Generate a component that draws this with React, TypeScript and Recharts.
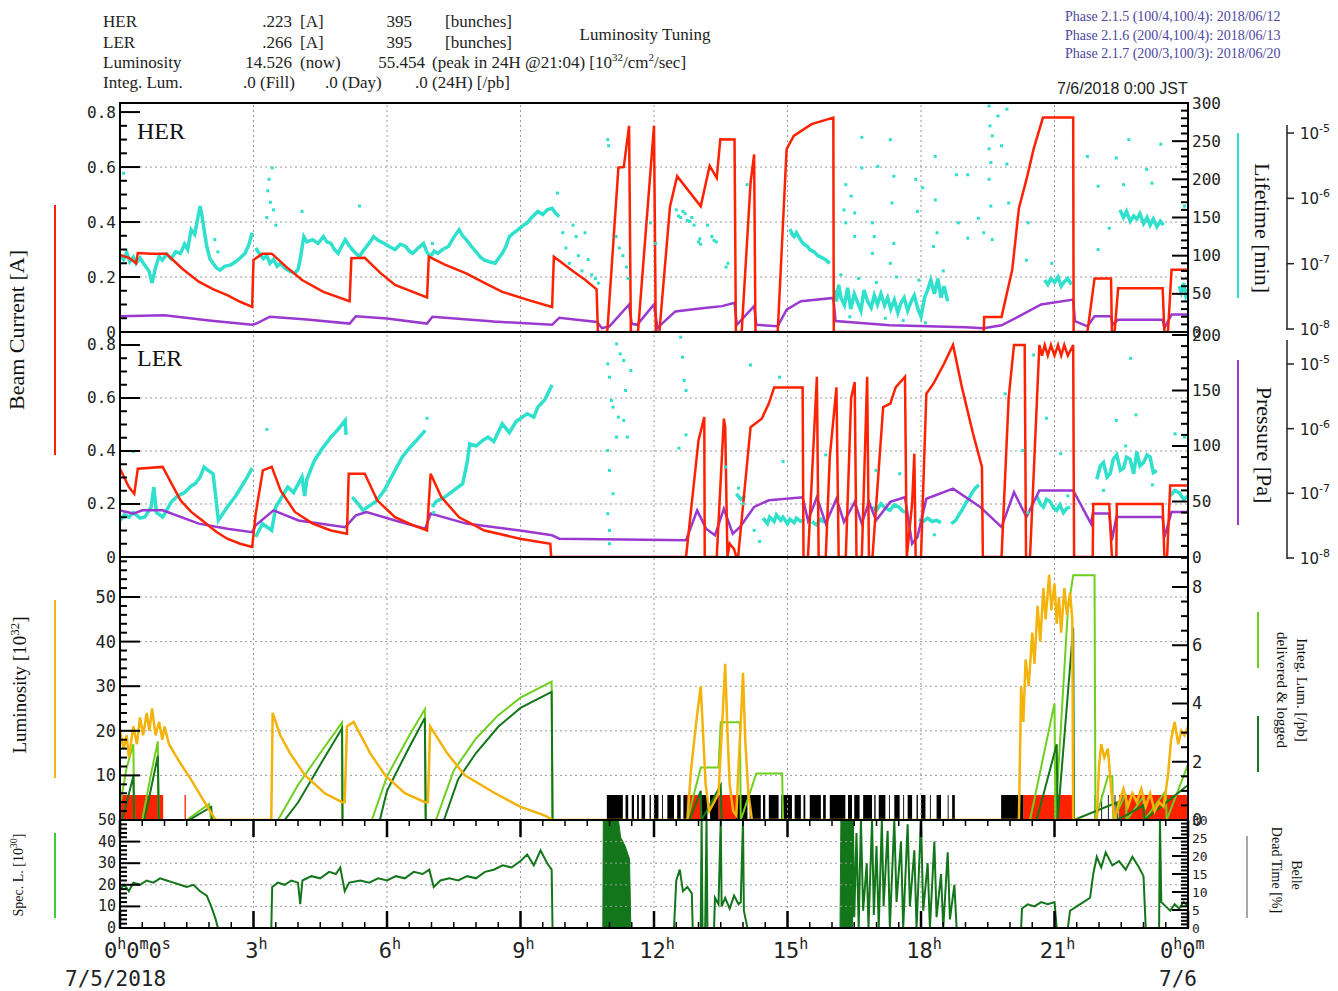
import React from 'react';
import {
  ComposedChart,
  Line,
  Area,
  Scatter,
  XAxis,
  YAxis,
  ReferenceLine,
  ReferenceArea,
} from 'recharts';

type Pt = [number, number | null];
type Span = [number, number];

// ---------- HER ring (hours, A / min / Pa) ----------
const herCurrent: Pt[] = [
  [0, 0.28], [0.2, 0.27], [0.36, 0.25], [0.4, 0.287], [0.7, 0.285], [1.04, 0.285], [1.4, 0.23], [1.77, 0.183],
  [2.1, 0.155], [2.41, 0.134], [2.7, 0.11], [2.97, 0.091],
  [3.0, 0.262], [3.2, 0.285], [3.41, 0.285], [3.75, 0.235], [4.09, 0.189], [4.57, 0.146], [5.16, 0.112],
  [5.2, 0.268], [5.5, 0.27], [5.85, 0.215], [6.18, 0.171], [6.9, 0.126],
  [6.94, 0.274], [7.3, 0.245], [7.78, 0.213], [8.2, 0.178], [8.59, 0.146], [9.2, 0.115], [9.71, 0.091],
  [9.75, 0.274], [10.19, 0.22], [10.45, 0.19], [10.71, 0.155], [10.74, 0], [10.95, 0], [11.2, 0.598], [11.32, 0.6],
  [11.44, 0.75], [11.48, 0], [11.64, 0], [12.0, 0.75], [12.04, 0],
  [12.12, 0], [12.36, 0.457], [12.52, 0.567], [13.05, 0.457], [13.25, 0.604], [13.41, 0.561], [13.49, 0.701],
  [13.81, 0.7], [13.84, 0], [13.97, 0], [14.17, 0.543], [14.25, 0.646], [14.28, 0],
  [14.78, 0], [14.98, 0.665], [15.14, 0.713], [15.54, 0.756], [16.03, 0.78], [16.04, 0],
  [19.41, 0], [19.42, 0.055], [19.81, 0.055], [20.05, 0.226], [20.2, 0.45], [20.37, 0.555], [20.53, 0.665],
  [20.74, 0.78], [21.42, 0.78], [21.43, 0],
  [21.74, 0], [21.9, 0.195], [22.27, 0.195], [22.29, 0], [22.35, 0], [22.43, 0.159], [23.43, 0.159], [23.47, 0],
  [23.55, 0], [23.63, 0.226], [24, 0.226],
];

const herPressure: Pt[] = [
  [0, 1.57e-8], [1.0, 1.63e-8], [2.0, 1.35e-8], [2.97, 1.16e-8], [3.05, 1.2e-8], [3.37, 1.54e-8], [4.2, 1.4e-8],
  [5.16, 1.21e-8], [5.3, 1.57e-8], [6.0, 1.45e-8], [6.9, 1.21e-8], [7.02, 1.54e-8], [8.4, 1.3e-8], [9.71, 1.16e-8],
  [9.87, 1.48e-8], [10.72, 1.28e-8], [10.83, 1.03e-8], [11.0, 1.1e-8], [11.44, 2.37e-8], [11.5, 1.2e-8],
  [11.62, 1.16e-8], [12.0, 2.37e-8], [12.08, 1.03e-8], [12.15, 1.16e-8], [12.48, 1.86e-8], [13.13, 2.09e-8],
  [13.53, 2.24e-8], [13.81, 2.51e-8], [13.86, 1.16e-8], [14.25, 2.24e-8], [14.3, 1.16e-8], [14.78, 1.1e-8],
  [14.98, 1.97e-8], [15.3, 2.66e-8], [16.03, 2.99e-8], [16.08, 1.32e-8], [17.3, 1.14e-8], [19.0, 1.06e-8],
  [19.41, 1.03e-8], [19.81, 1.14e-8], [20.21, 1.57e-8], [20.7, 2.37e-8], [21.42, 2.82e-8], [21.46, 1.32e-8],
  [21.74, 1.1e-8], [21.9, 1.57e-8], [22.27, 1.57e-8], [22.31, 1.16e-8], [22.43, 1.39e-8], [23.43, 1.39e-8],
  [23.47, 1.03e-8], [23.63, 1.66e-8], [24, 1.66e-8],
];

const herLifeBand: Pt[] = [
  [0, 101], [0.08, 95], [0.15, 104], [0.22, 92], [0.3, 98], [0.36, 90], [0.45, 97], [0.55, 88], [0.65, 80],
  [0.72, 64], [0.8, 85], [0.88, 99], [0.95, 94], [1.05, 102], [1.15, 96], [1.25, 105], [1.36, 103], [1.45, 115],
  [1.52, 108], [1.6, 134], [1.68, 128], [1.75, 150], [1.8, 165], [1.85, 150], [1.89, 134], [1.95, 112], [2.02, 96],
  [2.09, 90], [2.17, 84], [2.25, 81], [2.35, 86], [2.49, 88], [2.6, 92], [2.7, 97], [2.81, 103], [2.9, 115],
  [2.97, 130], [3.0, null],
  [3.05, 110], [3.13, 103], [3.22, 96], [3.3, 100], [3.37, 90], [3.45, 95], [3.53, 86], [3.61, 90], [3.7, 84],
  [3.8, 80], [3.93, 77], [4.0, 82], [4.05, 95], [4.13, 125], [4.2, 118], [4.33, 121], [4.45, 116], [4.57, 125],
  [4.65, 118], [4.74, 116], [4.82, 108], [4.9, 103], [4.98, 112], [5.06, 121], [5.14, 114], [5.22, 108],
  [5.3, 103], [5.38, 99], [5.46, 106], [5.54, 112], [5.62, 118], [5.7, 125], [5.8, 120], [5.94, 116], [6.05, 112],
  [6.18, 108], [6.3, 115], [6.42, 112], [6.5, 106], [6.58, 103], [6.7, 110], [6.82, 116], [6.9, 104], [6.98, 99],
  [7.06, 106], [7.14, 103], [7.25, 108], [7.38, 112], [7.5, 124], [7.62, 134], [7.7, 126], [7.78, 121], [7.9, 112],
  [8.03, 103], [8.1, 98], [8.19, 94], [8.3, 92], [8.43, 90], [8.5, 96], [8.59, 103], [8.67, 112], [8.75, 125],
  [8.85, 130], [8.99, 136], [9.07, 140], [9.15, 143], [9.25, 150], [9.39, 158], [9.5, 154], [9.6, 160], [9.71, 162],
  [9.8, 155], [9.87, 151], [9.9, null],
  [15.06, 135], [15.1, 128], [15.15, 125], [15.2, 130], [15.3, 120], [15.35, 116], [15.45, 112], [15.5, 108],
  [15.6, 105], [15.68, 100], [15.75, 98], [15.85, 95], [15.95, 90], [16.0, null],
  [16.05, 55], [16.1, 40], [16.15, 62], [16.2, 45], [16.28, 35], [16.35, 58], [16.42, 30], [16.5, 50], [16.58, 38],
  [16.65, 28], [16.72, 55], [16.8, 40], [16.88, 32], [16.95, 48], [17.02, 36], [17.1, 50], [17.18, 35], [17.25, 45],
  [17.32, 30], [17.4, 42], [17.48, 25], [17.55, 38], [17.62, 45], [17.7, 28], [17.78, 40], [17.85, 48], [17.92, 32],
  [18.0, 20], [18.08, 45], [18.15, 55], [18.22, 68], [18.3, 50], [18.38, 70], [18.45, 45], [18.52, 60], [18.6, 40],
  [18.65, null],
  [20.78, 68], [20.85, 62], [20.92, 70], [21.0, 65], [21.08, 72], [21.15, 60], [21.22, 66], [21.3, 70], [21.38, 62],
  [21.42, null],
  [22.47, 160], [22.55, 150], [22.62, 158], [22.7, 145], [22.78, 152], [22.85, 148], [22.92, 155], [23.0, 142],
  [23.08, 150], [23.15, 140], [23.22, 148], [23.3, 138], [23.38, 145], [23.45, 140], [23.5, null],
  [23.8, 60], [23.85, 52], [23.9, 64], [23.95, 48], [24, 56],
];

const herLifeDots: Pt[] = [
  [0.08, 208], [2.13, 121], [2.2, 105], [3.3, 150], [3.32, 185], [3.35, 200], [3.38, 170], [3.42, 215], [3.45, 160],
  [3.5, 140], [4.09, 158], [5.38, 165], [7.02, 116], [9.83, 182],
  [9.95, 130], [10.02, 110], [10.1, 90], [10.18, 140], [10.25, 125], [10.3, 100], [10.38, 80], [10.45, 130],
  [10.52, 95], [10.6, 75], [10.68, 70], [10.75, 64], [10.96, 252], [10.98, 244], [11.15, 125], [11.22, 110],
  [11.3, 100], [11.38, 85], [11.42, 70], [11.92, 143], [12.04, 116],
  [12.5, 160], [12.55, 152], [12.6, 150], [12.65, 158], [12.7, 155], [12.75, 146], [12.8, 145], [12.85, 150],
  [12.9, 140], [13.0, 118], [13.03, 122], [13.05, 115], [13.2, 140], [13.3, 125], [13.35, 120], [13.4, 118],
  [13.62, 85], [13.66, 90], [14.09, 193],
  [16.67, 255], [17.31, 252], [17.03, 217], [16.67, 215], [16.31, 193], [16.43, 178], [16.27, 160], [16.31, 143],
  [16.51, 156], [16.51, 125], [16.91, 143], [16.95, 125], [16.91, 103], [17.39, 204], [17.35, 169], [17.39, 116],
  [17.31, 90], [17.88, 200], [18.04, 189], [17.92, 158], [18.32, 230], [18.32, 173], [18.36, 130], [18.28, 112],
  [18.8, 206], [19.05, 206], [18.84, 143], [19.05, 123], [19.29, 149], [19.41, 130], [19.53, 296], [19.55, 270],
  [19.53, 240], [19.57, 222], [19.6, 257], [19.73, 283], [19.81, 244], [19.93, 292], [19.93, 220], [19.53, 200],
  [19.57, 165], [19.6, 121], [19.97, 169], [20.41, 143], [20.37, 94], [20.94, 90], [21.74, 230], [21.98, 191],
  [21.98, 108], [22.39, 228], [22.55, 193], [22.67, 252], [23.07, 213], [23.19, 195], [23.39, 246], [23.92, 165],
  [22.23, 136], [16.2, 75], [16.6, 70], [17.0, 65], [17.45, 72], [17.95, 68], [18.5, 80], [16.4, 20], [17.2, 18],
  [17.6, 15], [18.1, 12],
];

// ---------- LER ring ----------
const lerCurrent: Pt[] = [
  [0, 0.333], [0.2, 0.264], [0.32, 0.239], [0.4, 0.333], [0.96, 0.34], [1.15, 0.28], [1.36, 0.214], [1.6, 0.17],
  [1.85, 0.138], [2.17, 0.094], [2.41, 0.069], [2.7, 0.05], [2.97, 0.038],
  [3.05, 0.164], [3.21, 0.327], [3.41, 0.34], [3.61, 0.25], [3.93, 0.17], [4.33, 0.126], [4.74, 0.1], [5.1, 0.088],
  [5.14, 0.314], [5.5, 0.314], [5.78, 0.214], [6.18, 0.15], [6.58, 0.12], [6.9, 0.1],
  [6.98, 0.314], [7.22, 0.226], [7.62, 0.15], [8.19, 0.1], [8.99, 0.069], [9.67, 0.05], [9.69, 0],
  [12.72, 0], [13.0, 0.44], [13.13, 0.528], [13.14, 0], [13.41, 0], [13.57, 0.522], [13.6, 0.49], [13.65, 0],
  [13.7, 0.05], [13.8, 0.03], [13.85, 0], [13.89, 0], [14.17, 0.49], [14.42, 0.522], [14.58, 0.579], [14.7, 0.64],
  [15.34, 0.64], [15.36, 0], [15.46, 0], [15.66, 0.68], [15.7, 0], [15.86, 0], [15.95, 0.377], [16.1, 0.64],
  [16.15, 0], [16.31, 0], [16.43, 0.6], [16.51, 0.66], [16.55, 0], [16.67, 0], [16.79, 0.68], [16.83, 0],
  [16.91, 0], [17.15, 0.566], [17.31, 0.579], [17.43, 0.64], [17.64, 0.68], [17.68, 0], [17.8, 0.2], [17.85, 0.39],
  [17.88, 0], [18.0, 0], [18.12, 0.616], [18.28, 0.654], [18.52, 0.73], [18.72, 0.8], [18.92, 0.64], [19.17, 0.465],
  [19.37, 0.34], [19.39, 0], [19.81, 0], [19.97, 0.6], [20.09, 0.8], [20.33, 0.8], [20.36, 0], [20.45, 0],
  [20.66, 0.8], [20.72, 0.76], [20.78, 0.8], [20.85, 0.76], [20.92, 0.8], [21.0, 0.76], [21.08, 0.8], [21.15, 0.76],
  [21.22, 0.8], [21.3, 0.76], [21.42, 0.8], [21.44, 0],
  [21.86, 0], [21.87, 0.2], [22.23, 0.2], [22.29, 0], [22.39, 0], [22.4, 0.2], [23.43, 0.2], [23.47, 0],
  [23.53, 0], [23.6, 0.27], [24, 0.27],
];

const lerPressure: Pt[] = [
  [0, 5.45e-8], [0.3, 4.86e-8], [0.5, 5.45e-8], [0.96, 5.45e-8], [1.77, 3.4e-8], [2.41, 2.84e-8], [2.97, 2.51e-8],
  [3.05, 3.21e-8], [3.45, 5.45e-8], [4.01, 3.8e-8], [5.06, 3.0e-8], [5.3, 4.55e-8], [5.54, 5.14e-8], [6.18, 3.8e-8],
  [6.86, 2.84e-8], [6.98, 4.86e-8], [7.78, 3.4e-8], [8.99, 2.66e-8], [9.71, 2.24e-8], [9.87, 1.99e-8],
  [12.72, 1.88e-8], [12.97, 5.45e-8], [13.17, 2.84e-8], [13.37, 2.24e-8], [13.57, 5.75e-8], [13.77, 2.37e-8],
  [13.93, 3.0e-8], [14.25, 6.15e-8], [14.58, 7.8e-8], [15.34, 8.7e-8], [15.46, 3.8e-8], [15.66, 8.7e-8],
  [15.86, 3.4e-8], [16.1, 8.24e-8], [16.27, 3.6e-8], [16.51, 7.36e-8], [16.67, 3.4e-8], [16.83, 7.36e-8],
  [16.99, 3.8e-8], [17.31, 7.36e-8], [17.64, 8.7e-8], [17.8, 1.66e-8], [17.92, 2.1e-8], [18.12, 8.24e-8],
  [18.72, 1.18e-7], [19.33, 6.15e-8], [19.81, 3.0e-8], [20.09, 1.04e-7], [20.37, 4.3e-8], [20.66, 1.11e-7],
  [21.42, 1.11e-7], [21.82, 3.4e-8], [21.86, 4.86e-8], [22.23, 4.86e-8], [22.29, 1.88e-8], [22.39, 4.3e-8],
  [23.43, 4.3e-8], [23.47, 2.1e-8], [23.63, 5.14e-8], [24, 5.14e-8],
];

const lerLifeBand: Pt[] = [
  [0, 33], [0.1, 38], [0.2, 36], [0.3, 40], [0.45, 35], [0.56, 36], [0.7, 45], [0.76, 63], [0.82, 40], [0.96, 36],
  [1.16, 50], [1.3, 55], [1.45, 58], [1.6, 64], [1.69, 66], [1.8, 72], [1.89, 81], [1.98, 78], [2.09, 75],
  [2.15, 55], [2.21, 33], [2.41, 45], [2.6, 55], [2.8, 68], [2.97, 80], [3.0, null],
  [3.05, 18], [3.2, 30], [3.41, 24], [3.5, 45], [3.77, 63], [3.9, 58], [4.09, 72], [4.15, 55], [4.2, 70],
  [4.37, 87], [4.55, 98], [4.74, 108], [4.9, 115], [5.06, 123], [5.08, 110], [5.15, null],
  [5.22, 54], [5.35, 48], [5.46, 42], [5.6, 46], [5.75, 50], [5.94, 60], [6.1, 72], [6.34, 90], [6.5, 98],
  [6.66, 105], [6.86, 114], [6.95, null],
  [7.02, 45], [7.1, 50], [7.3, 54], [7.5, 60], [7.7, 66], [7.8, 85], [7.86, 102], [8.0, 100], [8.15, 105],
  [8.27, 108], [8.4, 104], [8.59, 120], [8.75, 112], [8.9, 122], [9.15, 129], [9.3, 126], [9.39, 135], [9.55, 142],
  [9.71, 155], [9.75, null],
  [13.85, 57], [13.95, 52], [14.05, 55], [14.1, null],
  [14.45, 35], [14.55, 30], [14.6, 36], [14.7, 32], [14.75, 38], [14.85, 33], [14.9, 36], [15.0, 30], [15.05, 34],
  [15.15, 31], [15.2, 35], [15.3, 32], [15.38, 34], [15.4, null], [15.55, 32], [15.65, 29], [15.75, 34],
  [15.82, 31], [15.85, null],
  [16.9, 45], [17.0, 42], [17.1, 48], [17.2, 44], [17.3, 42], [17.4, 47], [17.5, 45], [17.6, 41], [17.7, 40],
  [17.75, null], [17.95, 34], [18.05, 32], [18.15, 35], [18.25, 32], [18.35, 33], [18.45, 31], [18.5, null],
  [18.68, 30], [18.78, 33], [18.85, 38], [18.92, 42], [19.0, 48], [19.08, 53], [19.15, 58], [19.22, 62],
  [19.3, 65], [19.32, null],
  [20.6, 55], [20.68, 48], [20.75, 45], [20.82, 52], [20.9, 50], [20.98, 44], [21.05, 42], [21.12, 47], [21.2, 40],
  [21.28, 44], [21.35, 45], [21.4, null],
  [21.95, 70], [22.03, 82], [22.1, 85], [22.18, 72], [22.25, 75], [22.32, 88], [22.4, 92], [22.48, 78],
  [22.55, 80], [22.62, 90], [22.7, 88], [22.78, 75], [22.85, 95], [22.92, 82], [23.0, 85], [23.08, 92],
  [23.15, 90], [23.22, 76], [23.3, 78], [23.35, null], [23.6, 55], [23.7, 60], [23.8, 58], [23.9, 52], [24, 55],
];

const lerLifeDots: Pt[] = [
  [0.3, 95], [3.3, 115], [6.9, 125], [7.05, 40], [10.96, 174], [11.0, 162], [11.04, 141], [11.08, 135],
  [11.16, 192], [11.24, 183], [11.2, 126], [11.32, 177], [11.32, 123], [11.36, 150], [11.4, 108], [10.96, 96],
  [11.0, 78], [10.96, 39], [11.0, 24], [11.0, 12], [11.16, 108], [11.48, 168], [11.08, 57],
  [12.6, 198], [12.64, 180], [12.68, 159], [12.72, 150], [12.72, 110], [12.56, 98], [14.17, 173], [14.82, 162],
  [14.9, 86], [14.25, 24], [14.37, 14], [13.61, 81], [15.86, 92], [16.99, 78], [17.52, 75], [19.89, 147],
  [20.29, 96], [20.53, 182], [20.82, 125], [21.14, 93], [22.39, 123], [22.71, 179], [22.83, 128], [23.71, 111],
  [23.92, 108], [13.9, 62], [14.0, 48], [18.3, 20], [20.4, 40], [21.3, 55], [22.1, 60], [22.6, 100], [23.2, 65],
];

// ---------- Luminosity ----------
const lumi: Pt[] = [
  [0, 20], [0.08, 16], [0.15, 19], [0.2, 14], [0.3, 21], [0.38, 17], [0.45, 23], [0.52, 19], [0.6, 24], [0.66, 20],
  [0.72, 25], [0.8, 19], [0.88, 22], [0.95, 18], [1.0, 21], [1.1, 17], [1.34, 13], [1.6, 9], [1.9, 4], [2.15, 0],
  [3.4, 0], [3.43, 24], [3.6, 19], [3.82, 15], [4.16, 10], [4.6, 6], [4.99, 4], [5.05, 4],
  [5.1, 21], [5.25, 22], [5.62, 15], [5.96, 10], [6.4, 6], [6.85, 4], [6.92, 4],
  [6.97, 21], [7.35, 15], [7.75, 10], [8.43, 6], [8.99, 3], [9.55, 1], [9.73, 0],
  [12.75, 0], [12.83, 11], [12.95, 22], [13.05, 30], [13.1, 20], [13.16, 8], [13.24, 2], [13.35, 4], [13.45, 6],
  [13.55, 25], [13.6, 35], [13.65, 20], [13.7, 8], [13.78, 2], [13.85, 1], [13.9, 12], [13.96, 24], [14.0, 33],
  [14.05, 18], [14.12, 6], [14.2, 0],
  [20.2, 0], [20.25, 30], [20.3, 22], [20.35, 36], [20.42, 30], [20.5, 42], [20.55, 35], [20.62, 48], [20.68, 40],
  [20.75, 52], [20.8, 45], [20.88, 55], [20.93, 47], [21.0, 53], [21.05, 44], [21.1, 50], [21.15, 42],
  [21.22, 52], [21.28, 46], [21.35, 51], [21.4, 45], [21.42, 0],
  [21.95, 0], [22.0, 12], [22.05, 17], [22.12, 14], [22.2, 16], [22.28, 6], [22.35, 0], [22.45, 4], [22.55, 7],
  [22.65, 3], [22.75, 6], [22.85, 4], [22.95, 7], [23.05, 3], [23.15, 6], [23.25, 2], [23.35, 4], [23.45, 3],
  [23.55, 10], [23.62, 18], [23.7, 22], [23.78, 17], [23.85, 20], [23.92, 19], [24, 21],
];

const integDelivered: Pt[] = [
  [0, 0.5], [0.15, 1.8], [0.3, 2.6], [0.32, 0], [0.5, 0], [0.7, 1.6], [0.85, 2.7], [0.87, 0], [1.5, 0], [2.0, 0.55],
  [2.05, 0], [3.55, 0], [4.0, 1.2], [4.5, 2.3], [4.99, 3.35], [5.0, 0], [5.66, 0], [6.0, 1.5], [6.5, 2.9],
  [6.85, 3.8], [6.87, 0], [7.1, 0], [7.5, 1.7], [8.0, 2.8], [8.5, 3.6], [9.0, 4.2], [9.7, 4.75], [9.72, 0],
  [12.75, 0], [13.05, 1.8], [13.45, 1.8], [13.5, 3.36], [13.93, 3.36], [13.95, 0], [14.3, 1.6], [14.88, 1.6],
  [14.9, 0], [20.45, 0], [21.0, 4.0], [21.02, 0], [21.3, 7.2], [21.42, 8.4], [21.9, 8.4], [21.92, 0],
  [22.2, 1.5], [22.3, 1.5], [22.32, 0], [22.6, 0.9], [22.62, 0], [23.0, 0.8], [23.02, 0], [23.5, 1.0], [23.52, 0],
  [24, 1.9],
];

const integLogged: Pt[] = [
  [0.05, 0], [0.3, 1.5], [0.32, 0], [0.55, 0], [0.85, 2.2], [0.87, 0], [1.55, 0], [2.05, 0.45], [2.07, 0],
  [3.7, 0], [4.0, 0.6], [4.5, 1.9], [4.99, 3.15], [5.0, 0], [5.84, 0], [6.0, 1.0], [6.5, 2.5], [6.85, 3.5],
  [6.87, 0], [7.28, 0], [7.6, 1.4], [8.0, 2.3], [8.5, 3.2], [9.0, 3.85], [9.7, 4.4], [9.72, 0],
  [12.8, 0], [13.05, 1.0], [13.07, 0], [13.5, 1.2], [13.52, 0], [20.6, 0], [21.05, 2.6], [21.07, 0], [21.42, 6.6],
  [21.44, 0], [22.4, 0.6], [22.42, 0], [23.0, 0.5], [23.02, 0], [24, 1.2],
];

const stateRed: Span[] = [[0, 0.97], [1.45, 1.48], [12.74, 13.05], [13.45, 13.84], [20.3, 21.4], [22.45, 24]];
const stateBlack: Span[] = [
  [10.94, 11.3], [11.36, 11.42], [11.5, 11.55], [11.62, 11.66], [11.72, 11.8], [11.9, 11.93], [12.0, 12.1],
  [12.18, 12.2], [12.3, 12.45], [12.52, 12.6], [12.66, 12.74], [13.05, 13.2], [13.26, 13.45], [13.84, 14.1],
  [14.15, 14.4], [14.45, 14.5], [14.58, 14.8], [14.86, 15.1], [15.16, 15.3], [15.36, 15.4], [15.5, 15.75],
  [15.8, 15.86], [15.95, 16.3], [16.36, 16.45], [16.5, 16.62], [16.7, 16.9], [16.95, 16.98], [17.05, 17.2],
  [17.28, 17.3], [17.4, 17.52], [17.6, 17.62], [17.7, 17.8], [17.9, 17.93], [18.0, 18.1], [18.2, 18.22],
  [18.35, 18.45], [18.6, 18.62], [18.7, 18.76], [19.8, 20.3], [21.9, 21.92], [22.05, 22.07], [22.2, 22.22],
  [22.35, 22.37],
];

// ---------- Specific luminosity ----------
const specLumi: Pt[] = [
  [0, 18], [0.1, 20], [0.2, 17], [0.3, 21], [0.45, 20], [0.6, 22], [0.75, 21], [0.9, 23], [1.05, 22], [1.2, 21],
  [1.35, 20], [1.5, 19], [1.65, 20], [1.8, 17], [1.95, 15], [2.05, 10], [2.15, 4], [2.2, 0],
  [3.4, 0], [3.42, 19], [3.55, 21], [3.7, 20], [3.85, 22], [4.0, 21], [4.05, 11], [4.1, 22], [4.3, 24], [4.5, 23],
  [4.7, 26], [4.85, 25], [4.95, 28], [5.05, 17], [5.15, 21], [5.4, 22], [5.6, 21], [5.8, 23], [6.0, 22], [6.2, 24],
  [6.4, 23], [6.6, 26], [6.8, 25], [6.95, 27], [7.05, 19], [7.2, 22], [7.4, 23], [7.6, 22], [7.8, 24], [8.0, 23],
  [8.2, 26], [8.4, 27], [8.6, 29], [8.8, 28], [9.0, 31], [9.15, 34], [9.3, 29], [9.45, 36], [9.6, 30], [9.7, 27],
  [9.72, 0],
  [12.45, 0], [12.5, 22], [12.58, 27], [12.65, 17], [12.75, 19], [12.85, 16], [12.87, 0],
  [13.05, 0], [13.07, 50], [13.09, 0], [13.15, 0], [13.18, 50], [13.2, 0], [13.35, 0], [13.37, 14], [13.45, 11],
  [13.5, 50], [13.52, 10], [13.6, 14], [13.7, 9], [13.8, 15], [13.9, 11], [13.95, 12], [14.0, 50], [14.02, 8],
  [14.1, 0],
  [16.45, 0], [16.47, 50], [16.5, 5], [16.55, 44], [16.6, 0], [16.65, 50], [16.7, 8], [16.78, 30], [16.82, 0],
  [16.9, 50], [16.94, 6], [17.0, 38], [17.05, 0], [17.12, 50], [17.16, 10], [17.25, 45], [17.3, 0], [17.4, 50],
  [17.45, 12], [17.55, 40], [17.6, 0], [17.7, 48], [17.75, 10], [17.85, 36], [17.9, 0], [18.0, 50], [18.05, 8],
  [18.15, 30], [18.2, 0], [18.3, 40], [18.35, 5], [18.45, 25], [18.5, 0], [18.6, 35], [18.65, 4], [18.75, 20],
  [18.8, 0],
  [20.25, 0], [20.27, 9], [20.4, 11], [20.55, 10], [20.7, 12], [20.85, 11], [21.0, 12], [21.05, 0],
  [21.3, 0], [21.35, 8], [21.5, 10], [21.65, 12], [21.8, 14], [21.87, 25], [21.95, 33], [22.05, 28], [22.15, 35],
  [22.3, 29], [22.45, 31], [22.6, 27], [22.75, 33], [22.9, 28], [23.0, 24], [23.05, 0],
  [23.35, 0], [23.37, 50], [23.4, 12], [23.5, 10], [23.6, 8], [23.7, 11], [23.8, 9], [23.9, 12], [24, 10],
];

const specBurst: Pt[] = [
  [10.85, 0], [10.86, 50], [11.2, 50], [11.25, 42], [11.35, 38], [11.45, 32], [11.48, 0],
  [16.18, 0], [16.2, 50], [16.45, 50], [16.46, 0],
];

const xTickLabels = ['3', '6', '9', '12', '15', '18', '21'];

// ---------- helpers ----------
const PL = 120;
const PR = 1188;
const AX2 = 1287;
const MONO = 'DejaVu Sans Mono, monospace';
const SERIF = 'Liberation Serif, Times New Roman, serif';
const RED = '#ff2200';
const CYAN = '#2fe0cc';
const PURPLE = '#9a38d0';
const ORANGE = '#f4b30a';
const LGREEN = '#6fcf1f';
const DGREEN = '#13761a';
const M = { top: 0, right: 0, bottom: 0, left: 0 };

const rows = (a: Pt[]) => a.map(([t, v]) => ({ t, v }));
const steps = (a: number, b: number, s: number) => {
  const out: number[] = [];
  for (let i = 0; a + i * s <= b + 1e-9; i++) out.push(+(a + i * s).toFixed(4));
  return out;
};
const isMult = (v: number, s: number) => Math.abs(v / s - Math.round(v / s)) < 1e-6;
const X_TICKS = steps(0, 24, 0.5);
const GRID_X = [3, 6, 9, 12, 15, 18, 21];

function makeXTick(plotH: number, labels: boolean) {
  return (props: any) => {
    const { x, payload } = props;
    const v = payload.value as number;
    const major = isMult(v, 3);
    const len = major ? 17 : 6;
    const sw = major ? 2.5 : 1.5;
    let label: React.ReactNode = null;
    if (labels && major) {
      const by = plotH + 30;
      if (v === 0) {
        label = (
          <g fontFamily={MONO} fill="#222">
            <text x={x - 16} y={by} fontSize={22}>
              0<tspan dy={-9} fontSize={15}>h</tspan>
              <tspan dy={9}>0</tspan>
              <tspan dy={-9} fontSize={15}>m</tspan>
              <tspan dy={9}>0</tspan>
              <tspan dy={-9} fontSize={15}>s</tspan>
            </text>
            <text x={x - 55} y={plotH + 58} fontSize={21}>7/5/2018</text>
          </g>
        );
      } else if (v === 24) {
        label = (
          <g fontFamily={MONO} fill="#222">
            <text x={x - 28} y={by} fontSize={22}>
              0<tspan dy={-9} fontSize={15}>h</tspan>
              <tspan dy={9}>0</tspan>
              <tspan dy={-9} fontSize={15}>m</tspan>
            </text>
            <text x={x + 9} y={plotH + 58} fontSize={21} textAnchor="end">7/6</text>
          </g>
        );
      } else {
        const s = xTickLabels[v / 3 - 1];
        label = (
          <text x={x + 3} y={by} fontSize={22} fontFamily={MONO} fill="#222" textAnchor="middle">
            {s}
            <tspan dy={-9} fontSize={15}>h</tspan>
          </text>
        );
      }
    }
    return (
      <g>
        <line x1={x} x2={x} y1={plotH} y2={plotH - len} stroke="#000" strokeWidth={sw} />
        <line x1={x} x2={x} y1={0} y2={len} stroke="#000" strokeWidth={sw} />
        {label}
      </g>
    );
  };
}

function makeLeftTick(majorStep: number, fmt: (v: number) => string, fs: number, hide: number[] = []) {
  return (props: any) => {
    const { y, payload } = props;
    const v = payload.value as number;
    const major = isMult(v, majorStep);
    return (
      <g>
        <line x1={PL} x2={PL + (major ? 20 : 7)} y1={y} y2={y} stroke="#000" strokeWidth={2} />
        {major && !hide.includes(v) && (
          <text x={PL - 4} y={y} textAnchor="end" dominantBaseline="central" fontFamily={MONO} fontSize={fs} fill="#222">
            {fmt(v)}
          </text>
        )}
      </g>
    );
  };
}

function makeRightTick(majorStep: number, fs: number) {
  return (props: any) => {
    const { y, payload } = props;
    const v = payload.value as number;
    const major = isMult(v, majorStep);
    return (
      <g>
        <line x1={PR - (major ? 16 : 7)} x2={PR} y1={y} y2={y} stroke="#000" strokeWidth={2} />
        {major && (
          <text x={PR + 4} y={y} dominantBaseline="central" fontFamily={MONO} fontSize={fs} fill="#222">
            {String(v)}
          </text>
        )}
      </g>
    );
  };
}

function makeLogTick(plotH: number, dom: [number, number], ext: number) {
  const dec = plotH / (Math.log10(dom[1]) - Math.log10(dom[0]));
  return (props: any) => {
    const { y, payload } = props;
    const v = payload.value as number;
    const e = Math.round(Math.log10(v));
    return (
      <g>
        {e === -8 && <line x1={AX2} x2={AX2} y1={y + 1} y2={y - 3 * dec - ext} stroke="#222" strokeWidth={1.5} />}
        <line x1={AX2} x2={AX2 + 7} y1={y} y2={y} stroke="#222" strokeWidth={1.5} />
        <text x={AX2 + 13} y={y + 6} fontFamily="DejaVu Sans, sans-serif" fontSize={15} fill="#222">
          10<tspan dy={-7} fontSize={11}>{String(e)}</tspan>
        </text>
      </g>
    );
  };
}

const gridEls = (yVals: number[]) => [
  ...GRID_X.map((h) => (
    <ReferenceLine key={'gx' + h} x={h} yAxisId="L" stroke="#9a9a9a" strokeDasharray="2 3" strokeWidth={1} />
  )),
  ...yVals.map((v) => (
    <ReferenceLine key={'gy' + v} y={v} yAxisId="L" stroke="#9a9a9a" strokeDasharray="2 3" strokeWidth={1} />
  )),
];

const xAxisEl = (plotH: number, labels: boolean) => (
  <XAxis
    dataKey="t"
    type="number"
    domain={[0, 24]}
    ticks={X_TICKS}
    interval={0}
    allowDataOverflow
    tickLine={false}
    axisLine={false}
    height={labels ? 64 : 0}
    tick={makeXTick(plotH, labels)}
  />
);

const dot = (c: string) => (p: any) => <rect x={p.cx - 1.5} y={p.cy - 1.5} width={3} height={3} fill={c} />;

function RingPanel(props: {
  top: number;
  plotH: number;
  leftTop: number;
  rightTop: number;
  logDom: [number, number];
  logExt: number;
  current: Pt[];
  pressure: Pt[];
  lifeBand: Pt[];
  lifeDots: Pt[];
}) {
  const { top, plotH, leftTop, rightTop, logDom, logExt } = props;
  const fmt = (v: number) => (v === 0 ? '0' : v.toFixed(1));
  return (
    <div style={{ position: 'absolute', left: 0, top }}>
      <ComposedChart width={1338} height={plotH} margin={M}>
        {xAxisEl(plotH, false)}
        <YAxis
          yAxisId="L"
          width={120}
          domain={[0, leftTop]}
          ticks={steps(0, 0.8, 0.05)}
          interval={0}
          allowDataOverflow
          tickLine={false}
          axisLine={false}
          tick={makeLeftTick(0.2, fmt, 16)}
        />
        <YAxis
          yAxisId="R"
          orientation="right"
          width={99}
          domain={[0, rightTop]}
          ticks={steps(0, rightTop > 250 ? 300 : 200, 10)}
          interval={0}
          allowDataOverflow
          tickLine={false}
          axisLine={false}
          tick={makeRightTick(50, 16)}
        />
        <YAxis
          yAxisId="P"
          orientation="right"
          width={51}
          scale="log"
          domain={logDom}
          ticks={[1e-8, 1e-7, 1e-6, 1e-5]}
          interval={0}
          allowDataOverflow
          tickLine={false}
          axisLine={false}
          tick={makeLogTick(plotH, logDom, logExt)}
        />
        {gridEls([0.2, 0.4, 0.6])}
        <Scatter
          data={rows(props.lifeDots)}
          dataKey="v"
          yAxisId="R"
          fill={CYAN}
          shape={dot(CYAN)}
          isAnimationActive={false}
        />
        <Line
          data={rows(props.lifeBand)}
          dataKey="v"
          yAxisId="R"
          type="linear"
          stroke={CYAN}
          strokeWidth={3.5}
          dot={false}
          connectNulls={false}
          isAnimationActive={false}
        />
        <Line
          data={rows(props.pressure)}
          dataKey="v"
          yAxisId="P"
          type="linear"
          stroke={PURPLE}
          strokeWidth={2.5}
          dot={false}
          isAnimationActive={false}
        />
        <Line
          data={rows(props.current)}
          dataKey="v"
          yAxisId="L"
          type="linear"
          stroke={RED}
          strokeWidth={2.5}
          dot={false}
          isAnimationActive={false}
        />
      </ComposedChart>
    </div>
  );
}

function LumiPanel() {
  const plotH = 263;
  return (
    <div style={{ position: 'absolute', left: 0, top: 557 }}>
      <ComposedChart width={1338} height={plotH} margin={M}>
        {xAxisEl(plotH, false)}
        <YAxis
          yAxisId="L"
          width={120}
          domain={[0, 58.97]}
          ticks={steps(0, 58, 2)}
          interval={0}
          allowDataOverflow
          tickLine={false}
          axisLine={false}
          tick={makeLeftTick(10, (v) => String(v), 17, [0])}
        />
        <YAxis
          yAxisId="R"
          orientation="right"
          width={150}
          domain={[0, 9.03]}
          ticks={steps(0, 9, 0.5)}
          interval={0}
          allowDataOverflow
          tickLine={false}
          axisLine={false}
          tick={makeRightTick(2, 17)}
        />
        {gridEls([10, 20, 30, 40, 50])}
        {stateRed.map(([a, b], i) => (
          <ReferenceArea key={'r' + i} x1={a} x2={b} y1={0} y2={5.6} yAxisId="L" fill={RED} fillOpacity={1} stroke="none" />
        ))}
        {stateBlack.map(([a, b], i) => (
          <ReferenceArea key={'b' + i} x1={a} x2={b} y1={0} y2={5.6} yAxisId="L" fill="#000" fillOpacity={1} stroke="none" />
        ))}
        <Line
          data={rows(integDelivered)}
          dataKey="v"
          yAxisId="R"
          type="linear"
          stroke={LGREEN}
          strokeWidth={2}
          dot={false}
          isAnimationActive={false}
        />
        <Line
          data={rows(integLogged)}
          dataKey="v"
          yAxisId="R"
          type="linear"
          stroke={DGREEN}
          strokeWidth={2}
          dot={false}
          isAnimationActive={false}
        />
        <Line
          data={rows(lumi)}
          dataKey="v"
          yAxisId="L"
          type="linear"
          stroke={ORANGE}
          strokeWidth={2.5}
          dot={false}
          isAnimationActive={false}
        />
      </ComposedChart>
    </div>
  );
}

function SpecPanel() {
  const plotH = 108;
  return (
    <div style={{ position: 'absolute', left: 0, top: 820 }}>
      <ComposedChart width={1338} height={plotH + 64} margin={M}>
        {xAxisEl(plotH, true)}
        <YAxis
          yAxisId="L"
          width={120}
          domain={[0, 50]}
          ticks={steps(0, 50, 2)}
          interval={0}
          allowDataOverflow
          tickLine={false}
          axisLine={false}
          tick={makeLeftTick(10, (v) => String(v), 15)}
        />
        <YAxis
          yAxisId="R"
          orientation="right"
          width={150}
          domain={[0, 30]}
          ticks={steps(0, 30, 1)}
          interval={0}
          allowDataOverflow
          tickLine={false}
          axisLine={false}
          tick={makeRightTick(5, 13)}
        />
        {gridEls([10, 20, 30, 40])}
        <Area
          data={rows(specBurst)}
          dataKey="v"
          yAxisId="L"
          type="linear"
          stroke={DGREEN}
          fill={DGREEN}
          fillOpacity={1}
          isAnimationActive={false}
        />
        <Line
          data={rows(specLumi)}
          dataKey="v"
          yAxisId="L"
          type="linear"
          stroke={DGREEN}
          strokeWidth={2}
          dot={false}
          isAnimationActive={false}
        />
      </ComposedChart>
    </div>
  );
}

function Decor() {
  const hdr = { fontFamily: SERIF, fontSize: 17, fill: '#222' };
  const phase = { fontFamily: SERIF, fontSize: 14, fill: '#4d45a0' };
  return (
    <svg width={1338} height={991} style={{ position: 'absolute', left: 0, top: 0, pointerEvents: 'none' }}>
      {/* header */}
      <g {...hdr}>
        <text x={103} y={27}>HER</text>
        <text x={292} y={27} textAnchor="end">.223</text>
        <text x={300} y={27}>[A]</text>
        <text x={412} y={27} textAnchor="end">395</text>
        <text x={445} y={27}>[bunches]</text>
        <text x={103} y={48}>LER</text>
        <text x={292} y={48} textAnchor="end">.266</text>
        <text x={300} y={48}>[A]</text>
        <text x={412} y={48} textAnchor="end">395</text>
        <text x={445} y={48}>[bunches]</text>
        <text x={103} y={68}>Luminosity</text>
        <text x={292} y={68} textAnchor="end">14.526</text>
        <text x={300} y={68}>(now)</text>
        <text x={425} y={68} textAnchor="end">55.454</text>
        <text x={432} y={68}>
          (peak in 24H @21:04) [10<tspan dy={-7} fontSize={11}>32</tspan>
          <tspan dy={7}>/cm</tspan>
          <tspan dy={-7} fontSize={11}>2</tspan>
          <tspan dy={7}>/sec]</tspan>
        </text>
        <text x={103} y={88}>Integ. Lum.</text>
        <text x={243} y={88}>.0 (Fill)</text>
        <text x={325} y={88}>.0 (Day)</text>
        <text x={415} y={88}>.0 (24H) [/pb]</text>
        <text x={645} y={40} textAnchor="middle">Luminosity  Tuning</text>
      </g>
      <g {...phase}>
        <text x={1065} y={21}>Phase 2.1.5 (100/4,100/4): 2018/06/12</text>
        <text x={1065} y={40}>Phase 2.1.6 (200/4,100/4): 2018/06/13</text>
        <text x={1065} y={58}>Phase 2.1.7 (200/3,100/3): 2018/06/20</text>
      </g>
      <text x={1057} y={94} fontFamily="Liberation Sans, Arial, sans-serif" fontSize={16} fill="#222">
        7/6/2018 0:00 JST
      </text>

      {/* ring names */}
      <text x={137} y={139} fontFamily={SERIF} fontSize={24} fill="#111">HER</text>
      <text x={137} y={366} fontFamily={SERIF} fontSize={24} fill="#111">LER</text>

      {/* panel frames */}
      <g fill="none" stroke="#000" strokeWidth={2}>
        <rect x={PL} y={103} width={PR - PL} height={229} />
        <rect x={PL} y={332} width={PR - PL} height={225} />
        <rect x={PL} y={557} width={PR - PL} height={263} />
        <rect x={PL} y={820} width={PR - PL} height={108} />
      </g>

      {/* left titles */}
      <text transform="translate(24,330) rotate(-90)" textAnchor="middle" fontFamily={SERIF} fontSize={22} fill="#111">
        Beam Current [A]
      </text>
      <line x1={55} x2={55} y1={205} y2={455} stroke={RED} strokeWidth={2} />
      <text transform="translate(26,685) rotate(-90)" textAnchor="middle" fontFamily={SERIF} fontSize={19} fill="#111">
        Luminosity [10<tspan dy={-7} fontSize={13}>32</tspan>
        <tspan dy={7}>]</tspan>
      </text>
      <line x1={55} x2={55} y1={600} y2={778} stroke={ORANGE} strokeWidth={2} />
      <text transform="translate(23,875) rotate(-90)" textAnchor="middle" fontFamily={SERIF} fontSize={14} fill="#111">
        Spec. L. [10<tspan dy={-6} fontSize={10}>30</tspan>
        <tspan dy={6}>]</tspan>
      </text>
      <line x1={55} x2={55} y1={833} y2={918} stroke="#3ccc3c" strokeWidth={2} />

      {/* right titles */}
      <line x1={1238} x2={1238} y1={133} y2={298} stroke={CYAN} strokeWidth={2} />
      <text transform="translate(1255,228) rotate(90)" textAnchor="middle" fontFamily={SERIF} fontSize={22} fill="#111">
        Lifetime [min]
      </text>
      <line x1={1238} x2={1238} y1={360} y2={525} stroke={PURPLE} strokeWidth={2} />
      <text transform="translate(1257,445) rotate(90)" textAnchor="middle" fontFamily={SERIF} fontSize={22} fill="#111">
        Pressure [Pa]
      </text>
      <line x1={1258} x2={1258} y1={612} y2={668} stroke={LGREEN} strokeWidth={2} />
      <line x1={1258} x2={1258} y1={716} y2={772} stroke={DGREEN} strokeWidth={2} />
      <text transform="translate(1297,690) rotate(90)" textAnchor="middle" fontFamily={SERIF} fontSize={15} fill="#111">
        Integ. Lum. [/pb]
      </text>
      <text transform="translate(1277,690) rotate(90)" textAnchor="middle" fontFamily={SERIF} fontSize={15} fill="#111">
        delivered &amp; logged
      </text>
      <line x1={1247} x2={1247} y1={836} y2={918} stroke="#a8a8a8" strokeWidth={2} />
      <text transform="translate(1292,875) rotate(90)" textAnchor="middle" fontFamily={SERIF} fontSize={14} fill="#111">
        Belle
      </text>
      <text transform="translate(1272,870) rotate(90)" textAnchor="middle" fontFamily={SERIF} fontSize={14} fill="#111">
        Dead Time [%]
      </text>
    </svg>
  );
}

export default function App() {
  return (
    <div style={{ position: 'absolute', left: 0, top: 0, width: 1338, height: 991, background: '#fff', overflow: 'hidden' }}>
      <style>{'.recharts-surface{overflow:visible}.recharts-wrapper{overflow:visible}'}</style>
      <RingPanel
        top={103}
        plotH={229}
        leftTop={0.833}
        rightTop={300}
        logDom={[Math.pow(10, -8.046), Math.pow(10, -4.54)]}
        logExt={8}
        current={herCurrent}
        pressure={herPressure}
        lifeBand={herLifeBand}
        lifeDots={herLifeDots}
      />
      <RingPanel
        top={332}
        plotH={225}
        leftTop={0.849}
        rightTop={202.7}
        logDom={[Math.pow(10, -7.985), Math.pow(10, -4.505)]}
        logExt={24}
        current={lerCurrent}
        pressure={lerPressure}
        lifeBand={lerLifeBand}
        lifeDots={lerLifeDots}
      />
      <LumiPanel />
      <SpecPanel />
      <Decor />
    </div>
  );
}
